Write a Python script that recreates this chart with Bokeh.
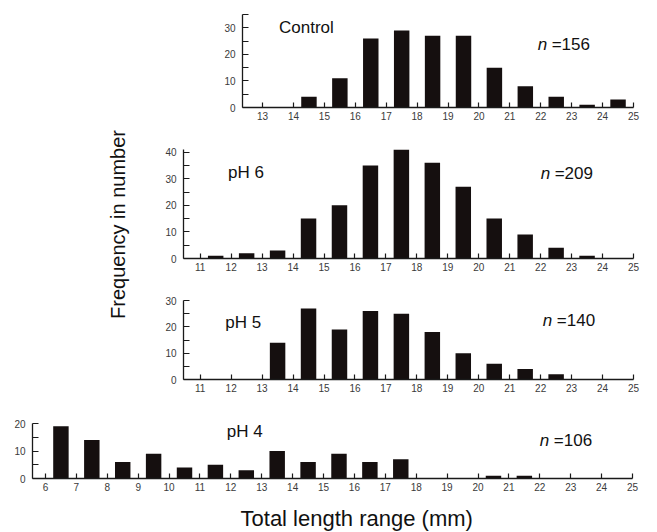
import math
from bokeh.plotting import figure
from bokeh.layouts import row, column
from bokeh.models import Range1d, FixedTicker, Spacer
from bokeh.embed import file_html
from bokeh.resources import INLINE
from bokeh.core.properties import value

# ---------------- data ----------------
control_bins = [14.5, 15.5, 16.5, 17.5, 18.5, 19.5, 20.5, 21.5, 22.5, 23.5, 24.5]
control_counts = [4, 11, 26, 29, 27, 27, 15, 8, 4, 1, 3]

ph6_bins = [11.5, 12.5, 13.5, 14.5, 15.5, 16.5, 17.5, 18.5, 19.5, 20.5, 21.5, 22.5, 23.5]
ph6_counts = [1, 2, 3, 15, 20, 35, 41, 36, 27, 15, 9, 4, 1]

ph5_bins = [13.5, 14.5, 15.5, 16.5, 17.5, 18.5, 19.5, 20.5, 21.5, 22.5]
ph5_counts = [14, 27, 19, 26, 25, 18, 10, 6, 4, 2]

ph4_bins = [6.5, 7.5, 8.5, 9.5, 10.5, 11.5, 12.5, 13.5, 14.5, 15.5, 16.5, 17.5, 20.5, 21.5]
ph4_counts = [19, 14, 6, 9, 4, 5, 3, 10, 6, 9, 6, 7, 1, 1]

control_xticks = list(range(13, 26))
ph6_xticks = list(range(11, 26))
ph5_xticks = list(range(11, 26))
ph4_xticks = list(range(6, 26))

panel_names = ["Control", "pH 6", "pH 5", "pH 4"]
panel_n = ["=156", "=209", "=140", "=106"]

FONT = "Liberation Sans"
BAR = "#150f0f"
AXIS = "#1a1a1a"
TICKLAB = "#3a3a3a"


def panel(width, height, xr, yr, bl, bt, br, bb, xticks, ymajor, yminor):
    p = figure(width=width, height=height, x_range=Range1d(*xr), y_range=Range1d(*yr),
               output_backend="svg", toolbar_location=None,
               min_border_left=bl, min_border_top=bt, min_border_right=br, min_border_bottom=bb)
    p.xgrid.visible = False
    p.ygrid.visible = False
    p.outline_line_color = None
    p.background_fill_color = "white"
    p.border_fill_color = "white"
    p.xaxis.ticker = FixedTicker(ticks=xticks)
    p.yaxis.ticker = FixedTicker(ticks=ymajor, minor_ticks=yminor)
    for ax in (p.xaxis, p.yaxis):
        ax.axis_line_color = AXIS
        ax.axis_line_width = 1.3
        ax.major_tick_line_color = AXIS
        ax.major_tick_line_width = 1.2
        ax.major_tick_out = 0
        ax.major_label_text_font = FONT
        ax.major_label_text_font_size = "10px"
        ax.major_label_text_color = TICKLAB
    p.xaxis.major_tick_in = 5
    p.xaxis.minor_tick_line_color = None
    p.xaxis.major_label_standoff = 4
    p.yaxis.major_tick_in = 6
    p.yaxis.minor_tick_in = 6
    p.yaxis.minor_tick_out = 0
    p.yaxis.minor_tick_line_color = AXIS
    p.yaxis.minor_tick_line_width = 1.2
    p.yaxis.major_label_standoff = 7
    return p


def add_texts(p, name, ntext, name_xy, n_xy):
    p.text(x=[name_xy[0]], y=[name_xy[1]], text=[name], text_font=value(FONT),
           text_font_size=value("17px"), text_baseline="middle", text_align="left",
           text_color="#111111")
    p.text(x=[n_xy[0]], y=[n_xy[1]], text=["n"], text_font=value(FONT),
           text_font_size=value("17px"), text_font_style="italic",
           text_baseline="middle", text_align="left", text_color="#111111")
    p.text(x=[n_xy[0]], y=[n_xy[1]], text=[ntext], text_font=value(FONT),
           text_font_size=value("17px"), text_baseline="middle", text_align="left",
           text_color="#111111", x_offset=14)


# Control (frame starts at page x 242)
pa = panel(458, 128, (12.35, 25), (0, 35), 43, 14, 24, 21, control_xticks,
           [0, 10, 20, 30], [5, 15, 25, 35])
pa.vbar(x=control_bins, top=control_counts, width=0.5, fill_color=BAR, line_color=None)
add_texts(pa, panel_names[0], panel_n[0], (13.53, 30), (21.9, 23.7))

# pH 6
pb = panel(517, 154, (10.46, 25), (0, 41), 43, 21, 24, 24, ph6_xticks,
           [0, 10, 20, 30, 40], [5, 15, 25, 35])
pb.vbar(x=ph6_bins, top=ph6_counts, width=0.5, fill_color=BAR, line_color=None)
add_texts(pb, panel_names[1], panel_n[1], (11.9, 32.3), (22.0, 32.0))

# pH 5
pc = panel(517, 118, (10.46, 25), (0, 30), 43, 18, 24, 21, ph5_xticks,
           [0, 10, 20, 30], [5, 15, 25])
pc.vbar(x=ph5_bins, top=ph5_counts, width=0.5, fill_color=BAR, line_color=None)
add_texts(pc, panel_names[2], panel_n[2], (11.81, 21.8), (22.07, 22.5))

# pH 4
pd_ = panel(657, 98, (5.58, 25), (0, 20), 32, 23, 25, 20, ph4_xticks,
            [0, 10, 20], [5, 15])
pd_.vbar(x=ph4_bins, top=ph4_counts, width=0.5, fill_color=BAR, line_color=None)
add_texts(pd_, panel_names[3], panel_n[3], (11.87, 17.2), (22.0, 13.9))

# y label (spans page y 128..400)
py = figure(width=140, height=272, x_range=Range1d(0, 140), y_range=Range1d(0, 272),
            output_backend="svg", toolbar_location=None, min_border=0,
            x_axis_location=None, y_axis_location=None)
py.outline_line_color = None
py.xgrid.visible = False
py.ygrid.visible = False
py.text(x=[117], y=[176], text=["Frequency in number"], angle=math.pi / 2,
        text_font=value(FONT), text_font_size=value("20px"), text_align="center",
        text_baseline="middle", text_color="#111111")

# x title
pt = figure(width=657, height=34, x_range=Range1d(0, 657), y_range=Range1d(0, 34),
            output_backend="svg", toolbar_location=None, min_border=0,
            x_axis_location=None, y_axis_location=None)
pt.outline_line_color = None
pt.xgrid.visible = False
pt.ygrid.visible = False
pt.text(x=[355], y=[14], text=["Total length range (mm)"],
        text_font=value(FONT), text_font_size=value("22px"), text_align="center",
        text_baseline="middle", text_color="#111111")

layout = column(
    row(Spacer(width=199, height=128), pa),
    row(py, column(pb, pc)),
    pd_,
    pt,
)

open("out.html", "w").write(file_html(layout, INLINE))
